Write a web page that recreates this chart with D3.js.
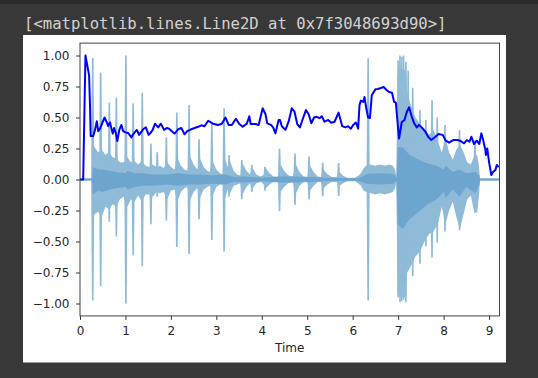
<!DOCTYPE html>
<html><head><meta charset="utf-8">
<script src="https://cdn.jsdelivr.net/npm/d3@7"></script>
<style>
html,body{margin:0;padding:0;background:#383838;}
svg{display:block;}
</style></head><body>
<svg id="c" width="538" height="378"></svg>
<script>
// ---------- data ----------
const outputText = "[<matplotlib.lines.Line2D at 0x7f3048693d90>]";
const xLabel = "Time";
const xTicks = [0,1,2,3,4,5,6,7,8,9];
const yTicks = [-1.00,-0.75,-0.50,-0.25,0.00,0.25,0.50,0.75,1.00];
const duration = 9.23;

// waveform envelope (max / min per chunk)
const envT  = [0,0.265,0.27,0.32,0.40,0.48,0.56,0.64,0.72,0.80,0.88,0.96,1.04,1.12,1.20,1.28,1.36,1.44,1.52,1.60,1.68,1.76,1.84,1.92,2.00,2.08,2.14,2.22,2.30,2.36,2.42,2.50,2.58,2.64,2.72,2.80,2.86,2.92,3.00,3.08,3.14,3.19,3.25,3.30,3.38,3.46,3.53,3.58,3.66,3.74,3.80,3.88,3.98,4.05,4.09,4.17,4.26,4.35,4.41,4.49,4.58,4.68,4.75,4.83,4.92,5.00,5.06,5.14,5.23,5.30,5.36,5.44,5.54,5.64,5.71,5.79,5.88,6.05,6.12,6.18,6.24,6.30,6.40,6.50,6.60,6.70,6.80,6.88,6.93,6.965,6.985,7.05,7.17,7.20,7.28,7.38,7.48,7.58,7.68,7.78,7.88,7.96,8.04,8.12,8.20,8.28,8.36,8.44,8.52,8.60,8.66,8.74,8.78,8.80,9.23];
const envHi = [0.008,0.008,0.30,0.26,0.22,0.24,0.20,0.22,0.18,0.17,0.14,0.14,0.18,0.14,0.15,0.12,0.15,0.11,0.10,0.12,0.10,0.11,0.09,0.14,0.10,0.08,0.18,0.11,0.08,0.07,0.19,0.12,0.08,0.17,0.10,0.07,0.06,0.15,0.08,0.05,0.04,0.17,0.10,0.15,0.07,0.04,0.03,0.13,0.07,0.04,0.09,0.04,0.025,0.04,0.09,0.05,0.025,0.02,0.12,0.07,0.035,0.025,0.12,0.06,0.025,0.02,0.11,0.06,0.025,0.02,0.08,0.045,0.02,0.02,0.06,0.03,0.015,0.015,0.03,0.05,0.09,0.11,0.12,0.11,0.12,0.11,0.12,0.11,0.08,0.02,0.85,0.90,0.88,0.70,0.60,0.50,0.45,0.40,0.36,0.40,0.30,0.22,0.34,0.22,0.16,0.24,0.28,0.22,0.14,0.12,0.18,0.20,0.10,0.008,0.008];
const envLo = [-0.008,-0.008,-0.30,-0.28,-0.26,-0.30,-0.22,-0.24,-0.20,-0.22,-0.16,-0.14,-0.22,-0.16,-0.18,-0.13,-0.18,-0.12,-0.12,-0.14,-0.10,-0.11,-0.10,-0.16,-0.09,-0.08,-0.18,-0.10,-0.07,-0.06,-0.17,-0.10,-0.07,-0.15,-0.08,-0.06,-0.05,-0.13,-0.06,-0.04,-0.04,-0.15,-0.08,-0.11,-0.05,-0.04,-0.03,-0.12,-0.06,-0.03,-0.07,-0.03,-0.02,-0.04,-0.07,-0.04,-0.02,-0.02,-0.10,-0.06,-0.03,-0.02,-0.11,-0.05,-0.02,-0.02,-0.09,-0.05,-0.02,-0.02,-0.07,-0.04,-0.02,-0.02,-0.05,-0.03,-0.015,-0.015,-0.03,-0.05,-0.09,-0.10,-0.11,-0.12,-0.11,-0.12,-0.11,-0.10,-0.07,-0.02,-0.90,-0.95,-0.95,-0.75,-0.70,-0.62,-0.58,-0.50,-0.44,-0.42,-0.35,-0.22,-0.36,-0.25,-0.18,-0.30,-0.40,-0.28,-0.16,-0.13,-0.24,-0.27,-0.12,-0.008,-0.008];

// darker inner band of the waveform
const coreT  = [0,0.265,0.28,0.40,0.50,0.65,0.80,1.00,1.05,1.20,1.40,1.60,1.90,2.15,2.40,2.65,2.90,3.20,3.40,3.60,4.00,4.40,4.75,5.05,5.40,5.70,6.10,6.20,6.30,6.60,6.90,6.965,6.99,7.10,7.25,7.45,7.65,7.85,8.00,8.05,8.20,8.35,8.50,8.70,8.79,8.80,9.23];
const coreHi = [0.008,0.008,0.10,0.08,0.08,0.07,0.06,0.05,0.07,0.05,0.05,0.04,0.04,0.05,0.04,0.04,0.035,0.04,0.02,0.025,0.015,0.025,0.025,0.02,0.015,0.012,0.01,0.02,0.045,0.05,0.045,0.01,0.26,0.26,0.20,0.16,0.13,0.11,0.08,0.11,0.06,0.08,0.05,0.06,0.03,0.008,0.008];
const coreLo = [-0.008,-0.008,-0.12,-0.09,-0.10,-0.08,-0.07,-0.06,-0.08,-0.06,-0.05,-0.05,-0.04,-0.05,-0.04,-0.04,-0.035,-0.04,-0.02,-0.025,-0.015,-0.025,-0.025,-0.02,-0.015,-0.012,-0.01,-0.02,-0.035,-0.04,-0.035,-0.01,-0.36,-0.40,-0.32,-0.26,-0.20,-0.16,-0.10,-0.15,-0.08,-0.14,-0.06,-0.11,-0.04,-0.008,-0.008];

// transient spikes
const spikeT  = [0.28,0.455,0.645,0.80,1.01,1.17,1.37,1.56,1.70,1.90,2.13,2.40,2.62,2.90,3.17,3.28,3.56,3.78,4.07,4.39,4.73,5.04,5.34,5.69,6.34,7.00,7.04,7.08,7.12,7.17,7.22,7.32,7.48,7.61,7.745,7.86,8.03,8.35,8.69];
const spikeHi = [0.98,0.86,0.62,0.66,1.0,0.615,0.70,0.29,0.22,0.34,0.54,0.60,0.324,0.458,0.574,0.198,0.157,0.117,0.103,0.25,0.21,0.185,0.135,0.133,0.977,0.96,1.0,0.99,1.0,0.95,0.88,0.74,0.56,0.48,0.64,0.50,0.44,0.40,0.32];
const spikeLo = [-0.975,-0.86,-0.34,-0.46,-1.0,-0.61,-0.70,-0.36,-0.14,-0.33,-0.545,-0.60,-0.32,-0.488,-0.58,-0.14,-0.16,-0.10,-0.09,-0.255,-0.206,-0.16,-0.136,-0.133,-0.975,-0.95,-0.99,-0.98,-0.97,-0.99,-0.73,-0.78,-0.68,-0.54,-0.63,-0.51,-0.42,-0.41,-0.27];

// normalized spectral centroid (blue line)
const cenT = [0,0.07,0.12,0.16,0.20,0.22,0.235,0.29,0.33,0.37,0.40,0.44,0.54,0.59,0.62,0.66,0.72,0.75,0.79,0.82,0.865,0.91,0.95,1.0,1.06,1.13,1.18,1.25,1.30,1.39,1.45,1.51,1.54,1.60,1.65,1.72,1.78,1.85,1.91,1.96,2.02,2.08,2.16,2.23,2.30,2.36,2.45,2.52,2.60,2.67,2.74,2.82,2.88,2.93,3.04,3.12,3.20,3.27,3.34,3.43,3.50,3.58,3.67,3.725,3.756,3.86,3.93,4.02,4.08,4.12,4.20,4.25,4.30,4.37,4.40,4.44,4.52,4.59,4.66,4.72,4.78,4.84,4.88,4.97,5.03,5.09,5.15,5.21,5.27,5.32,5.38,5.46,5.53,5.60,5.69,5.77,5.84,5.90,5.96,6.01,6.07,6.12,6.15,6.18,6.23,6.26,6.30,6.34,6.38,6.42,6.50,6.55,6.62,6.68,6.75,6.80,6.865,6.91,6.95,6.98,7.02,7.08,7.14,7.19,7.24,7.29,7.35,7.41,7.46,7.52,7.60,7.66,7.73,7.82,7.89,7.98,8.05,8.12,8.21,8.30,8.36,8.45,8.51,8.57,8.61,8.67,8.73,8.785,8.83,8.87,8.92,8.93,8.96,9.005,9.05,9.09,9.14,9.17,9.21];
const cenV = [0,0,1.0,0.92,0.84,0.6,0.35,0.35,0.40,0.47,0.39,0.41,0.50,0.46,0.43,0.46,0.37,0.415,0.37,0.31,0.40,0.44,0.39,0.38,0.375,0.34,0.37,0.40,0.36,0.405,0.42,0.36,0.37,0.40,0.45,0.42,0.45,0.40,0.415,0.41,0.39,0.37,0.405,0.415,0.365,0.39,0.405,0.415,0.425,0.437,0.43,0.474,0.46,0.45,0.44,0.45,0.50,0.44,0.44,0.49,0.45,0.426,0.45,0.51,0.447,0.447,0.44,0.574,0.528,0.453,0.44,0.42,0.372,0.48,0.48,0.43,0.40,0.466,0.574,0.547,0.447,0.42,0.466,0.56,0.528,0.453,0.50,0.506,0.494,0.51,0.466,0.48,0.458,0.466,0.539,0.43,0.42,0.43,0.41,0.44,0.46,0.41,0.60,0.636,0.625,0.665,0.57,0.50,0.496,0.68,0.727,0.73,0.738,0.746,0.72,0.705,0.70,0.627,0.62,0.49,0.33,0.464,0.48,0.544,0.582,0.518,0.455,0.42,0.44,0.42,0.385,0.345,0.318,0.345,0.367,0.36,0.313,0.297,0.318,0.318,0.313,0.292,0.318,0.305,0.345,0.286,0.313,0.286,0.372,0.318,0.238,0.198,0.25,0.13,0.036,0.063,0.077,0.117,0.10,0.02];

// ---------- drawing ----------
const svg = d3.select("#c");
const W = 538, H = 378;

svg.append("rect").attr("x",0).attr("y",0).attr("width",W).attr("height",4).attr("fill","#2b2b2b");
svg.append("text").attr("x",24).attr("y",29.3)
  .attr("font-family","'DejaVu Sans Mono', monospace").attr("font-size","15.6px")
  .attr("fill","#d2d2d2").style("white-space","pre").text(outputText);

// figure background
svg.append("rect").attr("x",23).attr("y",35).attr("width",483).attr("height",327.5).attr("fill","#ffffff");

const m = {left:80, right:499.5, top:43.1, bottom:315.9};
const x = d3.scaleLinear().domain([0,duration]).range([m.left,m.right]);
const y = d3.scaleLinear().domain([-1.1,1.1]).range([m.bottom,m.top]);

svg.append("defs").append("clipPath").attr("id","clip")
  .append("rect").attr("x",m.left).attr("y",m.top).attr("width",m.right-m.left).attr("height",m.bottom-m.top);
const plot = svg.append("g").attr("clip-path","url(#clip)");

const light = "#8fbbd9", dark = "#6ea5ce";

const env = envT.map((t,i)=>({t, hi:envHi[i], lo:envLo[i]}));
const core = coreT.map((t,i)=>({t, hi:coreHi[i], lo:coreLo[i]}));
const area = d3.area().x(d=>x(d.t)).y0(d=>y(d.lo)).y1(d=>y(d.hi));

plot.append("path").datum(env).attr("d",area).attr("fill",light);

const spikeLine = d3.line().x(d=>x(d[0])).y(d=>y(d[1]));
const w0 = 0.035, w1 = 0.018;
spikeT.forEach((t,i)=>{
  const pts = [[t-w0,0],[t-w1,spikeHi[i]],[t+w1,spikeHi[i]],[t+w0,0],[t+w1,spikeLo[i]],[t-w1,spikeLo[i]],[t-w0,0]];
  plot.append("path").attr("d",spikeLine(pts)).attr("fill",light);
});

plot.append("path").datum(core).attr("d",area).attr("fill",dark);

const cen = cenT.map((t,i)=>({t, v:cenV[i]}));
plot.append("path").datum(cen)
  .attr("d", d3.line().x(d=>x(d.t)).y(d=>y(d.v)))
  .attr("fill","none").attr("stroke","#0000ff").attr("stroke-width",2).attr("stroke-linejoin","round");

// axes
const fmt = d3.format(".2f");
const gy = svg.append("g").attr("transform",`translate(${m.left},0)`)
  .call(d3.axisLeft(y).tickValues(yTicks).tickFormat(fmt).tickSize(4).tickPadding(6.5));
const gx = svg.append("g").attr("transform",`translate(0,${m.bottom})`)
  .call(d3.axisBottom(x).tickValues(xTicks).tickFormat(d3.format("d")).tickSize(4).tickPadding(6.5));
[gx,gy].forEach(g=>{
  g.select(".domain").remove();
  g.selectAll(".tick line").attr("stroke","#333");
  g.selectAll(".tick text").attr("fill","#262626")
    .attr("font-family","'DejaVu Sans', sans-serif").attr("font-size","12px");
});

svg.append("rect").attr("x",m.left).attr("y",m.top).attr("width",m.right-m.left).attr("height",m.bottom-m.top)
  .attr("fill","none").attr("stroke","#444").attr("stroke-width",1);

svg.append("text").attr("x",(m.left+m.right)/2).attr("y",351.7).attr("text-anchor","middle")
  .attr("font-family","'DejaVu Sans', sans-serif").attr("font-size","12px").attr("fill","#262626").text(xLabel);
</script></body></html>
